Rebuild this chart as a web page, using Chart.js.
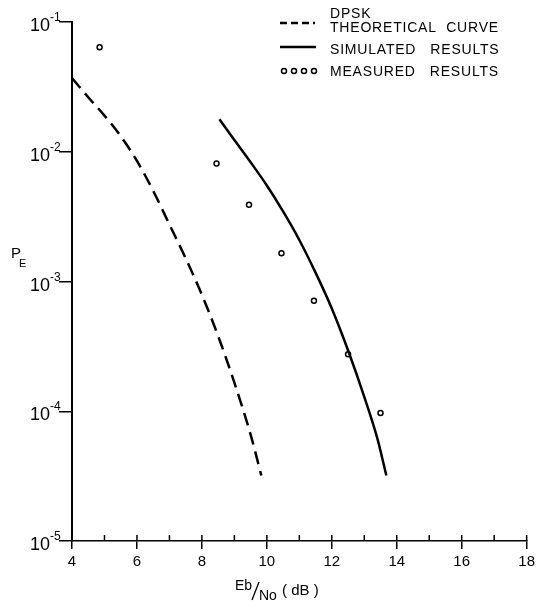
<!DOCTYPE html>
<html>
<head>
<meta charset="utf-8">
<script src="https://cdn.jsdelivr.net/npm/chart.js@4.4.1/dist/chart.umd.min.js"></script>
<style>
  html, body { margin: 0; padding: 0; background: #fff; }
  #wrap { width: 539px; height: 607px; }
</style>
</head>
<body>
<div id="wrap"><canvas id="peChart" width="539" height="607"></canvas></div>
<script>
// values (Eb/No in dB, error probability)
const theoryX = [4.0, 4.5, 5.0, 5.5, 6.0, 6.5, 7.0, 7.5, 8.0, 8.5, 9.0, 9.5, 9.83];
const theoryY = [3.7e-2, 2.63e-2, 1.9e-2, 1.32e-2, 8.5e-3, 5.0e-3, 2.75e-3, 1.51e-3, 7.9e-4, 3.8e-4, 1.66e-4, 6.6e-5, 3.2e-5];

const simX = [8.54, 9.0, 9.5, 10.0, 10.5, 11.0, 11.5, 12.0, 12.5, 13.0, 13.4, 13.68];
const simY = [1.78e-2, 1.23e-2, 8.3e-3, 5.5e-3, 3.47e-3, 2.09e-3, 1.17e-3, 6.2e-4, 2.95e-4, 1.29e-4, 6.2e-5, 3.2e-5];

const measX = [4.85, 8.45, 9.45, 10.45, 11.45, 12.5, 13.5];
const measY = [6.4e-2, 8.1e-3, 3.9e-3, 1.65e-3, 7.1e-4, 2.75e-4, 9.7e-5];

const yTicks = [1e-5, 1e-4, 1e-3, 1e-2, 1e-1];

const FONT = '"Liberation Sans", Arial, sans-serif';

function toPoints(xs, ys) {
    return xs.map((v, i) => ({ x: v, y: ys[i] }));
}

// extra drawing: inner x ticks, y labels with exponents, axis titles, legend
const decorPlugin = {
    id: 'decor',
    afterDraw(chart) {
        const { ctx, scales: { x, y } } = chart;
        const bottom = y.bottom;
        ctx.save();
        ctx.strokeStyle = '#000';
        ctx.fillStyle = '#000';

        // short ticks pointing up into the plot
        ctx.lineWidth = 1.5;
        for (let v = x.min; v <= x.max; v++) {
            const px = x.getPixelForValue(v);
            ctx.beginPath();
            ctx.moveTo(px, bottom);
            ctx.lineTo(px, bottom - 6);
            ctx.stroke();
        }

        // y labels 10^n
        yTicks.forEach(v => {
            const py = y.getPixelForValue(v);
            const exp = Math.round(Math.log10(v));
            ctx.font = '18px ' + FONT;
            ctx.textAlign = 'right';
            ctx.textBaseline = 'alphabetic';
            ctx.fillText('10', 50, py + 9);
            ctx.font = '12px ' + FONT;
            ctx.textAlign = 'left';
            ctx.fillText(String(exp), 50, py - 1);
        });

        // P_E
        ctx.textAlign = 'left';
        ctx.font = '15px ' + FONT;
        ctx.fillText('P', 11, 258);
        ctx.font = '11px ' + FONT;
        ctx.fillText('E', 19, 267);

        // Eb/No (dB)
        ctx.font = '14px ' + FONT;
        ctx.fillText('Eb', 235, 590);
        ctx.fillText('No', 259, 600);
        ctx.lineWidth = 1.3;
        ctx.beginPath();
        ctx.moveTo(252, 600);
        ctx.lineTo(259, 582);
        ctx.stroke();
        ctx.font = '15px ' + FONT;
        ctx.fillText('( dB )', 282, 595);

        // legend
        const ds = chart.data.datasets;
        ctx.font = '14px ' + FONT;
        ctx.letterSpacing = '0.8px';
        ctx.fillText('DPSK', 330, 18);
        ctx.fillText('THEORETICAL  CURVE', 330, 32);
        ctx.fillText('SIMULATED   RESULTS', 330, 54);
        ctx.fillText('MEASURED   RESULTS', 330, 76);

        ctx.lineWidth = ds[0].borderWidth;
        ctx.setLineDash([7, 4]);
        ctx.beginPath();
        ctx.moveTo(280, 23);
        ctx.lineTo(315, 23);
        ctx.stroke();
        ctx.setLineDash([]);
        ctx.lineWidth = ds[1].borderWidth;
        ctx.beginPath();
        ctx.moveTo(280, 47);
        ctx.lineTo(316, 47);
        ctx.stroke();
        ctx.lineWidth = ds[2].borderWidth;
        [284, 294, 304, 314].forEach(cx => {
            ctx.beginPath();
            ctx.arc(cx, 71, ds[2].pointRadius, 0, Math.PI * 2);
            ctx.stroke();
        });
        ctx.restore();
    }
};

const ctx = document.getElementById('peChart').getContext('2d');
new Chart(ctx, {
    type: 'scatter',
    data: {
        datasets: [{
            label: 'DPSK THEORETICAL CURVE',
            data: toPoints(theoryX, theoryY),
            showLine: true,
            borderColor: '#000',
            borderWidth: 2.5,
            borderDash: [13, 7],
            pointRadius: 0,
            cubicInterpolationMode: 'monotone',
            fill: false
        }, {
            label: 'SIMULATED RESULTS',
            data: toPoints(simX, simY),
            showLine: true,
            borderColor: '#000',
            borderWidth: 2.5,
            pointRadius: 0,
            cubicInterpolationMode: 'monotone',
            fill: false
        }, {
            label: 'MEASURED RESULTS',
            data: toPoints(measX, measY),
            showLine: false,
            borderColor: '#000',
            backgroundColor: '#fff',
            borderWidth: 1.5,
            pointRadius: 2.5,
            pointHoverRadius: 2.5
        }]
    },
    options: {
        responsive: false,
        animation: false,
        devicePixelRatio: 1,
        layout: {
            padding: { top: 22, right: 10, left: 0, bottom: 0 }
        },
        plugins: {
            legend: { display: false },
            tooltip: { enabled: false }
        },
        scales: {
            x: {
                type: 'linear',
                min: 4,
                max: 18,
                afterFit: s => { s.height = 66; },
                border: { display: true, color: '#000', width: 1.5 },
                grid: {
                    drawOnChartArea: false,
                    tickLength: 8,
                    lineWidth: 1.5,
                    tickColor: c => (c.tick && c.tick.value % 2 === 0) ? '#000' : 'rgba(0,0,0,0)'
                },
                ticks: {
                    stepSize: 1,
                    autoSkip: false,
                    maxRotation: 0,
                    padding: 4,
                    color: '#000',
                    font: { family: FONT, size: 15 },
                    callback: v => (v % 2 === 0 ? String(v) : '')
                }
            },
            y: {
                type: 'logarithmic',
                min: 1e-5,
                max: 1e-1,
                afterFit: s => { s.width = 72; },
                afterBuildTicks: s => { s.ticks = yTicks.map(v => ({ value: v })); },
                border: { display: true, color: '#000', width: 2 },
                grid: {
                    drawOnChartArea: false,
                    tickLength: 13,
                    lineWidth: 1.5,
                    color: '#000'
                },
                ticks: {
                    display: false
                }
            }
        }
    },
    plugins: [decorPlugin]
});
</script>
</body>
</html>
